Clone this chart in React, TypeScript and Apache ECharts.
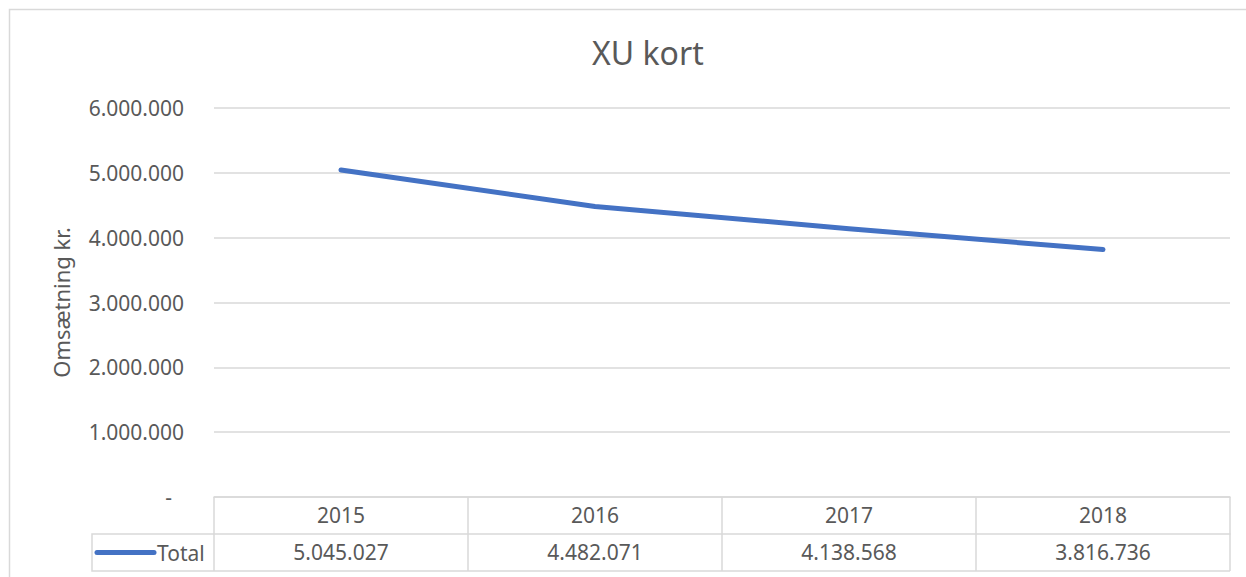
import React, { useEffect, useRef } from "react";
import * as echarts from "echarts";

const title = "XU kort";
const yAxisName = "Omsætning kr.";
const seriesName = "Total";
const categories = ["2015", "2016", "2017", "2018"];
const totals = [5045027, 4482071, 4138568, 3816736];
const yMin = 0;
const yMax = 6000000;
const yStep = 1000000;

const FONT = "'Noto Sans', 'Open Sans', sans-serif";
const TEXT = "#595959";
const GRID = "#d9d9d9";
const BLUE = "#4472C4";

const fmt = (v: number) => {
  const s = Math.round(v).toString();
  return s.replace(/\B(?=(\d{3})+(?!\d))/g, ".");
};

// layout
const L = 214, R = 16, T = 108, B = 80;
const W = 1246, H = 577;
const axisY = H - B; // 497
const rowH = 37;
const legendLeft = 92;
const plotRight = W - R;

export default function App() {
  const ref = useRef<HTMLDivElement>(null);
  useEffect(() => {
    if (!ref.current) return;
    const chart = echarts.init(ref.current, undefined, { renderer: "svg" });
    chart.setOption({
      animation: false,
      backgroundColor: "#ffffff",
      title: {
        text: title,
        left: 587,
        top: 31,
        textStyle: { fontFamily: FONT, fontSize: 32, fontWeight: "normal", color: TEXT },
      },
      grid: { left: L, right: R, top: T, bottom: B, containLabel: false },
      xAxis: [
        {
          type: "category",
          data: categories,
          boundaryGap: true,
          position: "bottom",
          axisLine: { show: true, lineStyle: { color: GRID, width: 1.5 } },
          axisTick: { show: true, interval: 0, length: rowH * 2, lineStyle: { color: GRID, width: 1.5 } },
          axisLabel: { interval: 0, margin: 7, fontFamily: FONT, fontSize: 21, color: TEXT },
          splitLine: { show: false },
        },
        {
          type: "category",
          data: totals.map(fmt),
          boundaryGap: true,
          position: "bottom",
          offset: rowH,
          axisLine: { show: true, lineStyle: { color: GRID, width: 1.5 } },
          axisTick: { show: false },
          axisLabel: { interval: 0, margin: 7, fontFamily: FONT, fontSize: 21, color: TEXT },
          splitLine: { show: false },
        },
      ],
      yAxis: {
        type: "value",
        min: yMin,
        max: yMax,
        interval: yStep,
        name: yAxisName,
        nameLocation: "middle",
        nameGap: 142,
        nameRotate: 90,
        nameTextStyle: { fontFamily: FONT, fontSize: 22, color: TEXT },
        axisLine: { show: false },
        axisTick: { show: false },
        axisLabel: {
          margin: 30,
          fontFamily: FONT,
          fontSize: 21,
          color: TEXT,
          formatter: (v: number) => (v === 0 ? "{d|-}" : fmt(v)),
          rich: { d: { fontFamily: FONT, fontSize: 21, color: TEXT, padding: [0, 12, 0, 0] } },
        },
        splitLine: { show: true, lineStyle: { color: GRID, width: 1.5 } },
      },
      series: [
        {
          name: seriesName,
          type: "line",
          xAxisIndex: 0,
          data: totals,
          symbol: "none",
          lineStyle: { color: BLUE, width: 5, cap: "round", join: "round" },
        },
      ],
      graphic: [
        {
          type: "polyline",
          shape: { points: [[9.5, H + 5], [9.5, 9.5], [W + 5, 9.5]] },
          style: { stroke: GRID, fill: "none", lineWidth: 1.5 },
          silent: true,
        },
        {
          type: "polyline",
          shape: { points: [[L, axisY + rowH], [legendLeft, axisY + rowH], [legendLeft, axisY + 2 * rowH], [plotRight, axisY + 2 * rowH]] },
          style: { stroke: GRID, fill: "none", lineWidth: 1.5 },
          silent: true,
        },
        {
          type: "line",
          shape: { x1: 97, y1: axisY + rowH * 1.5, x2: 154, y2: axisY + rowH * 1.5 },
          style: { stroke: BLUE, lineWidth: 5, lineCap: "round" },
          silent: true,
        },
        {
          type: "text",
          x: 157,
          y: axisY + rowH * 1.5,
          style: { text: seriesName, fontFamily: FONT, fontSize: 21, fill: TEXT, verticalAlign: "middle", align: "left" },
          silent: true,
        },
      ],
    });
    return () => chart.dispose();
  }, []);
  return (
    <div
      ref={ref}
      style={{ position: "fixed", left: 0, top: 0, width: W, height: H, background: "#fff" }}
    />
  );
}
